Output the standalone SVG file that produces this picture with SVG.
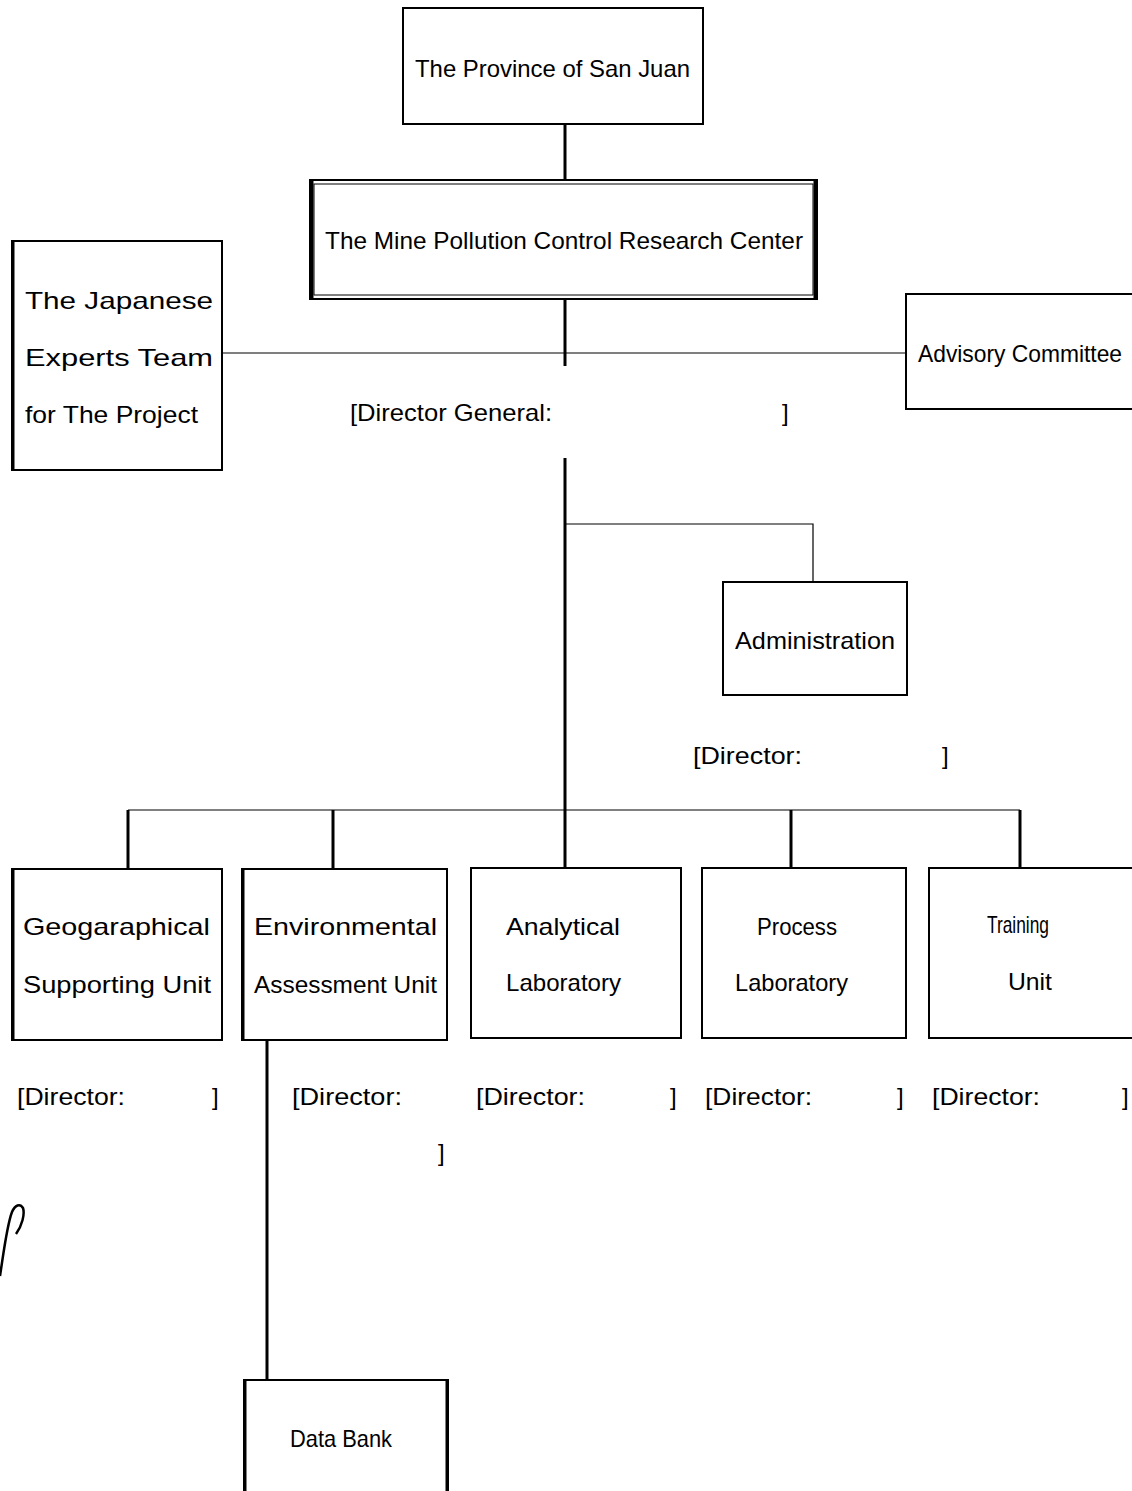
<svg xmlns="http://www.w3.org/2000/svg" width="1132" height="1491" viewBox="0 0 1132 1491">
<style>
.box{fill:#fff;stroke:#000;stroke-width:2}
.t{font-family:"Liberation Sans",Arial,sans-serif;font-size:24px;fill:#000}
.thick{stroke:#000;stroke-width:3;fill:none}
.thin{stroke:#000;stroke-width:1.2;fill:none}
</style>
<rect width="1132" height="1491" fill="#fff"/>
<g id="connectors">
<line class="thick" x1="565" y1="124" x2="565" y2="180"/>
<line class="thick" x1="565" y1="299" x2="565" y2="366"/>
<line class="thin" x1="222" y1="353" x2="906" y2="353"/>
<line class="thick" x1="565" y1="458" x2="565" y2="868"/>
<polyline class="thin" points="565,524 813,524 813,582"/>
<line class="thin" x1="128" y1="810" x2="1020" y2="810"/>
<line class="thick" x1="128" y1="810" x2="128" y2="869"/>
<line class="thick" x1="333" y1="810" x2="333" y2="869"/>
<line class="thick" x1="791" y1="810" x2="791" y2="868"/>
<line class="thick" x1="1020" y1="810" x2="1020" y2="868"/>
<line class="thick" x1="267" y1="1040" x2="267" y2="1380"/>
</g>
<g id="province">
<rect class="box" x="403" y="8" width="300" height="116"/>
<text class="t" x="415" y="77" textLength="275" lengthAdjust="spacingAndGlyphs">The Province of San Juan</text>
</g>
<g id="mpcrc">
<rect class="box" x="310" y="180" width="507" height="119" stroke-width="1.5"/>
<rect x="314" y="184" width="499" height="111" fill="none" stroke="#000" stroke-width="1"/>
<line class="thick" x1="312" y1="180" x2="312" y2="299"/>
<line class="thick" x1="815" y1="180" x2="815" y2="299"/>
<text class="t" x="325" y="249" textLength="478" lengthAdjust="spacingAndGlyphs">The Mine Pollution Control Research Center</text>
</g>
<g id="japanese">
<rect class="box" x="12" y="241" width="210" height="229"/>
<line class="thick" x1="13" y1="241" x2="13" y2="470"/>
<text class="t" x="25" y="309" textLength="188" lengthAdjust="spacingAndGlyphs">The Japanese</text>
<text class="t" x="25" y="366" textLength="188" lengthAdjust="spacingAndGlyphs">Experts Team</text>
<text class="t" x="25" y="423" textLength="173" lengthAdjust="spacingAndGlyphs">for The Project</text>
</g>
<g id="advisory">
<rect class="box" x="906" y="294" width="230" height="115"/>
<text class="t" x="918" y="362" textLength="204" lengthAdjust="spacingAndGlyphs">Advisory Committee</text>
</g>
<g id="director-general">
<text class="t" x="350" y="421" textLength="202" lengthAdjust="spacingAndGlyphs">[Director General:</text>
<text class="t" x="782" y="421">]</text>
</g>
<g id="administration">
<rect class="box" x="723" y="582" width="184" height="113"/>
<text class="t" x="735" y="649" textLength="160" lengthAdjust="spacingAndGlyphs">Administration</text>
<text class="t" x="693" y="764" textLength="109" lengthAdjust="spacingAndGlyphs">[Director:</text>
<text class="t" x="942" y="764">]</text>
</g>
<g id="geographical">
<rect class="box" x="12" y="869" width="210" height="171"/>
<line class="thick" x1="13" y1="869" x2="13" y2="1040"/>
<text class="t" x="23" y="935" textLength="187" lengthAdjust="spacingAndGlyphs">Geogaraphical</text>
<text class="t" x="23" y="993" textLength="188" lengthAdjust="spacingAndGlyphs">Supporting  Unit</text>
<text class="t" x="17" y="1105" textLength="108" lengthAdjust="spacingAndGlyphs">[Director:</text>
<text class="t" x="212" y="1105">]</text>
</g>
<g id="environmental">
<rect class="box" x="242" y="869" width="205" height="171"/>
<line class="thick" x1="243" y1="869" x2="243" y2="1040"/>
<text class="t" x="254" y="935" textLength="183" lengthAdjust="spacingAndGlyphs">Environmental</text>
<text class="t" x="254" y="993" textLength="183" lengthAdjust="spacingAndGlyphs">Assessment  Unit</text>
<text class="t" x="292" y="1105" textLength="110" lengthAdjust="spacingAndGlyphs">[Director:</text>
<text class="t" x="438" y="1161">]</text>
</g>
<g id="analytical">
<rect class="box" x="471" y="868" width="210" height="170"/>
<text class="t" x="506" y="935" textLength="114" lengthAdjust="spacingAndGlyphs">Analytical</text>
<text class="t" x="506" y="991" textLength="115" lengthAdjust="spacingAndGlyphs">Laboratory</text>
<text class="t" x="476" y="1105" textLength="109" lengthAdjust="spacingAndGlyphs">[Director:</text>
<text class="t" x="670" y="1105">]</text>
</g>
<g id="process">
<rect class="box" x="702" y="868" width="204" height="170"/>
<text class="t" x="757" y="935" textLength="80" lengthAdjust="spacingAndGlyphs">Process</text>
<text class="t" x="735" y="991" textLength="113" lengthAdjust="spacingAndGlyphs">Laboratory</text>
<text class="t" x="705" y="1105" textLength="107" lengthAdjust="spacingAndGlyphs">[Director:</text>
<text class="t" x="897" y="1105">]</text>
</g>
<g id="training">
<rect class="box" x="929" y="868" width="205" height="170"/>
<text class="t" x="987" y="933" textLength="62" lengthAdjust="spacingAndGlyphs">Training</text>
<text class="t" x="1008" y="990" textLength="44" lengthAdjust="spacingAndGlyphs">Unit</text>
<text class="t" x="932" y="1105" textLength="108" lengthAdjust="spacingAndGlyphs">[Director:</text>
<text class="t" x="1122" y="1105">]</text>
</g>
<g id="databank">
<path d="M244,1493 V1380 H448 V1493" fill="#fff" stroke="#000" stroke-width="2"/>
<line class="thick" x1="245" y1="1380" x2="245" y2="1491"/>
<line class="thick" x1="447" y1="1380" x2="447" y2="1491"/>
<text class="t" x="290" y="1447" textLength="102" lengthAdjust="spacingAndGlyphs">Data Bank</text>
</g>
<path d="M0,1276 C4,1250 7,1225 12,1212 C15,1205 20,1203 23,1208 C25,1214 22,1226 16,1234" fill="none" stroke="#000" stroke-width="2.5"/>
</svg>
